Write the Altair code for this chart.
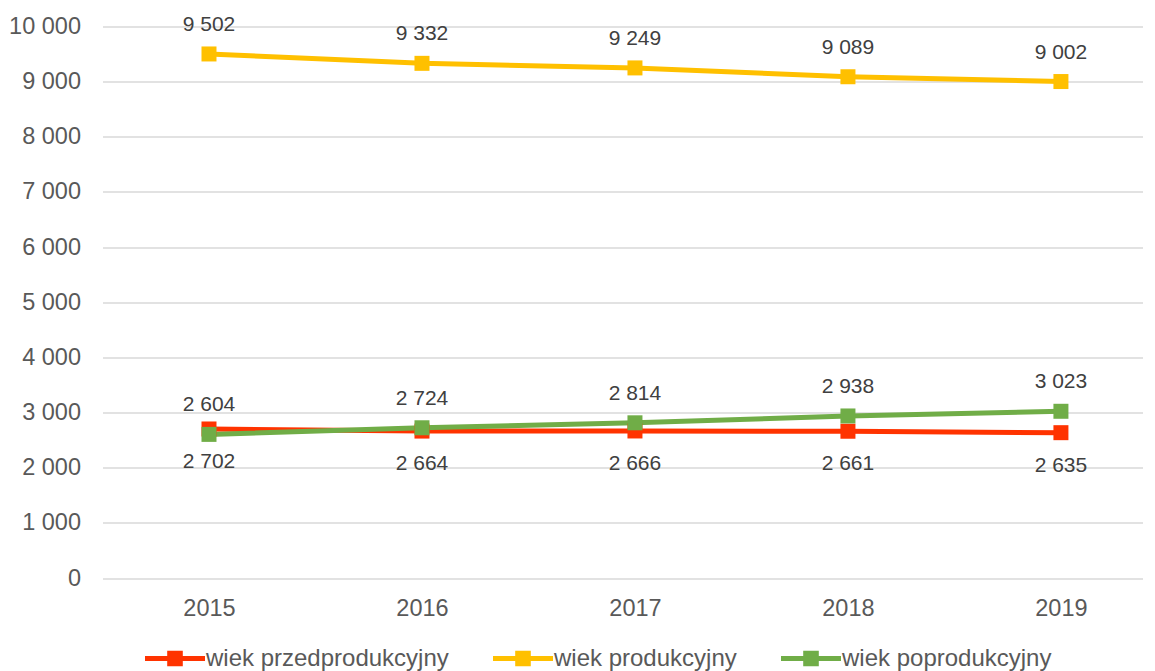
import altair as alt
import pandas as pd

years = [2015, 2016, 2017, 2018, 2019]
series_names = ["wiek przedprodukcyjny", "wiek produkcyjny", "wiek poprodukcyjny"]
przed = [2702, 2664, 2666, 2661, 2635]
prod = [9502, 9332, 9249, 9089, 9002]
popro = [2604, 2724, 2814, 2938, 3023]
colors = ["#FF3300", "#FFC000", "#70AD47"]
label_dy = [33, -29, -29]

rows = []
for name, vals, dy in zip(series_names, [przed, prod, popro], label_dy):
    for y, v in zip(years, vals):
        rows.append({"rok": y, "seria": name, "wartosc": v,
                     "etykieta": f"{v:,}".replace(",", " "), "dy": dy})
df = pd.DataFrame(rows)

FONT = "Liberation Sans"
TXT = "#595959"

x = alt.X("rok:Q", scale=alt.Scale(domain=[2014.5, 2019.383], nice=False, zero=False),
          axis=alt.Axis(values=years, format="d", grid=False, domain=False, ticks=False,
                        labelFontSize=23.5, labelColor=TXT, labelFont=FONT, labelPadding=18,
                        title=None))
y = alt.Y("wartosc:Q", scale=alt.Scale(domain=[0, 10000], nice=False),
          axis=alt.Axis(values=list(range(0, 10001, 1000)), grid=True, gridColor="#D9D9D9",
                        gridWidth=1.5, domain=False, ticks=False, labelFontSize=23.5,
                        labelColor=TXT, labelFont=FONT, labelPadding=22,
                        labelExpr="replace(format(datum.value, ','), ',', ' ')", title=None))

sym = ("M-1,-0.085 L1,-0.085 L1,0.085 L-1,0.085 Z "
       "M-0.26,-0.26 L0.26,-0.26 L0.26,0.26 L-0.26,0.26 Z")

color = alt.Color("seria:N", scale=alt.Scale(domain=series_names, range=colors),
                  sort=series_names,
                  legend=alt.Legend(title=None, orient="none", direction="horizontal",
                                    legendX=42.5, legendY=602, symbolType=sym,
                                    symbolSize=3600, symbolStrokeWidth=0,
                                    labelFontSize=24, labelFont=FONT, labelColor=TXT,
                                    labelOffset=1, columnPadding=44, symbolOpacity=1,
                                    labelLimit=400))

base = alt.Chart(df)
lines = base.mark_line(strokeWidth=5).encode(x=x, y=y, color=color, detail="seria:N")
points = base.mark_point(shape="square", filled=True, size=225, opacity=1).encode(
    x=x, y=y, color=color)
texts = []
for name, dy in zip(series_names, label_dy):
    texts.append(base.transform_filter(alt.datum.seria == name).mark_text(
        dy=dy, fontSize=21, font=FONT, color="#404040", baseline="middle").encode(
        x=x, y=y, text="etykieta:N"))

chart = alt.layer(lines, points, *texts).properties(
    width=1040, height=551.5,
    autosize=alt.AutoSizeParams(type="none"),
    padding={"left": 94.5, "top": 18.5, "right": 0, "bottom": 94.5},
).configure_view(stroke=None)

chart.save("out.html", embed_options={"renderer": "svg", "actions": False})
